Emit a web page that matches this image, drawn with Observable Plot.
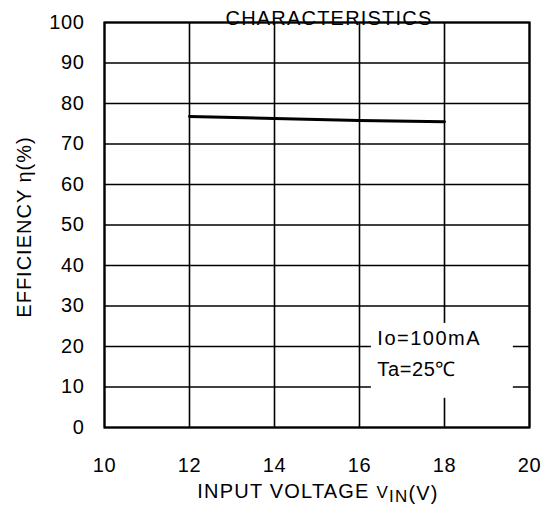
<!DOCTYPE html>
<html>
<head>
<meta charset="utf-8">
<script src="https://cdn.jsdelivr.net/npm/d3@7"></script>
<script src="https://cdn.jsdelivr.net/npm/@observablehq/plot@0.6"></script>
<style>
  html, body { margin: 0; padding: 0; background: white; }
</style>
</head>
<body>
<div id="chart"></div>
<script>
const titleText = "CHARACTERISTICS";
const xTicks = [10, 12, 14, 16, 18, 20];
const yTicks = [0, 10, 20, 30, 40, 50, 60, 70, 80, 90, 100];
const vin = [12, 14, 16, 18];
const efficiency = [76.8, 76.3, 75.8, 75.5];
const noteLines = ["Io=100mA", "Ta=25\u2103"];
const noteBox = [{x1: 16.28, x2: 19.62, y1: 7.2, y2: 25.7}];
const noteTextPos = [{x: 16.42, y: 22.0}, {x: 16.42, y: 14.4}];

const series = vin.map((v, i) => ({vin: v, eff: efficiency[i]}));
const notes = noteLines.map((t, i) => ({...noteTextPos[i], text: t}));

const font = "'Liberation Sans', Arial, sans-serif";

const svg = Plot.plot({
  width: 549,
  height: 509,
  marginLeft: 104,
  marginRight: 20,
  marginTop: 22,
  marginBottom: 82,
  style: {fontFamily: font, fontSize: "20px", color: "black", background: "white", letterSpacing: "0.6px"},
  x: {domain: [10, 20], ticks: xTicks, tickSize: 0, tickPadding: 30, label: null},
  y: {domain: [0, 100], ticks: yTicks, tickSize: 0, tickPadding: 20, label: null},
  marks: [
    Plot.ruleX(xTicks, {stroke: "black", strokeWidth: 1.6}),
    Plot.ruleY(yTicks, {stroke: "black", strokeWidth: 1.6}),
    Plot.rect(noteBox, {x1: "x1", x2: "x2", y1: "y1", y2: "y2", fill: "white"}),
    Plot.frame({stroke: "black", strokeWidth: 2.2}),
    Plot.line(series, {x: "vin", y: "eff", stroke: "black", strokeWidth: 3}),
    Plot.text(notes, {x: "x", y: "y", text: "text", textAnchor: "start", fontSize: 20}),
    Plot.text([titleText], {frameAnchor: "top", dy: -12, dx: 12, text: d => d, fontSize: 20})
  ]
});

const s = d3.select(svg);
s.selectAll("text").filter(function() { return this.textContent.startsWith("Io="); })
  .style("letter-spacing", "1.5px");
s.selectAll("text").filter(function() { return this.textContent === titleText; })
  .style("letter-spacing", "1.2px");

// x-axis label with subscript
const xl = s.append("text")
  .attr("x", 318).attr("y", 498)
  .attr("text-anchor", "middle")
  .attr("font-family", font).attr("font-size", 20).attr("fill", "black")
  .style("letter-spacing", "1.2px");
xl.append("tspan").text("INPUT VOLTAGE ");
xl.append("tspan").attr("font-size", 17).text("V");
xl.append("tspan").attr("dy", 4).attr("font-size", 17).text("IN");
xl.append("tspan").attr("dy", -2).text("(V)");

// y-axis label
s.append("text")
  .attr("transform", "translate(31,227) rotate(-90)")
  .attr("text-anchor", "middle")
  .attr("font-family", font).attr("font-size", 20).attr("fill", "black")
  .style("letter-spacing", "1px")
  .text("EFFICIENCY \u03b7(%)");

document.getElementById("chart").appendChild(svg);
</script>
</body>
</html>
